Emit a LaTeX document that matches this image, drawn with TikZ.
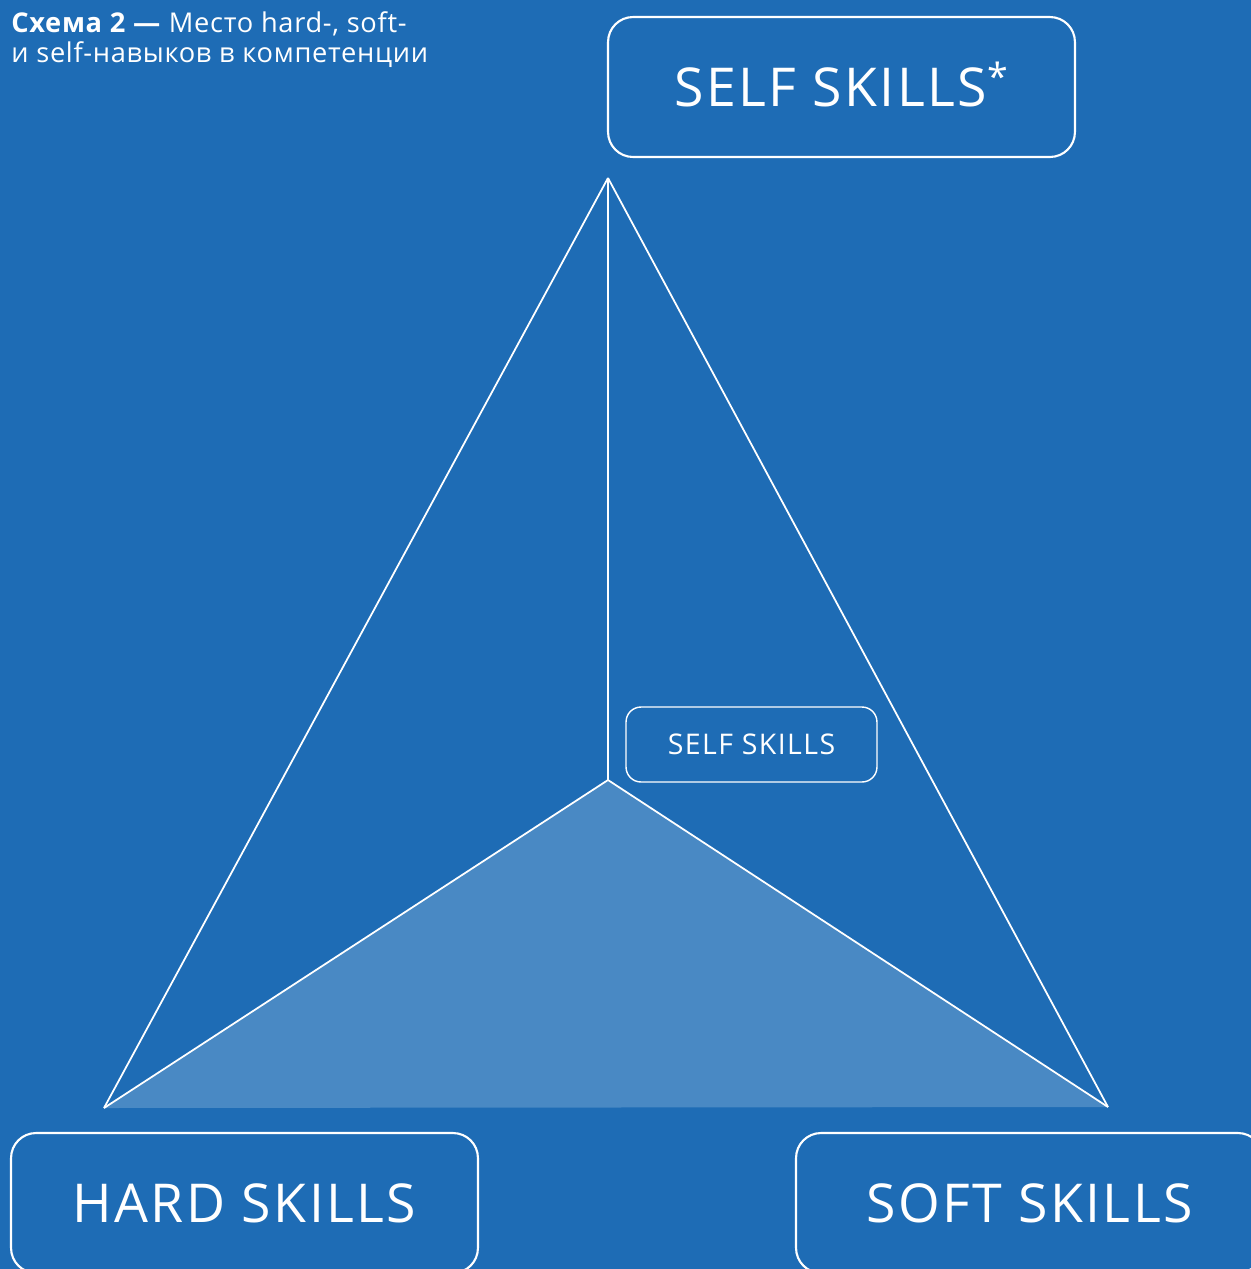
\documentclass[tikz,border=0pt]{standalone}
\usepackage{fontspec}
\setmainfont{Open Sans}
\definecolor{bgblue}{RGB}{30,108,181}
\definecolor{lightblue}{RGB}{73,137,196}

\begin{document}
\begin{tikzpicture}[x=0.02cm, y=-0.02cm,
    skillbox/.style={draw=white, line width=1.2pt, rounded corners=0.5cm,
        minimum width=9.34cm, minimum height=2.8cm, text=white,
        text height=21.8pt, text depth=0pt,
        font=\fontsize{30.5}{34}\selectfont\addfontfeature{LetterSpace=4.5}},
    smallbox/.style={draw=white, line width=0.8pt, rounded corners=0.3cm,
        minimum width=5.02cm, minimum height=1.5cm, text=white,
        text height=11.6pt, text depth=0pt,
        font=\fontsize{16.2}{18}\selectfont\addfontfeature{LetterSpace=5}},
    edge/.style={draw=white, line width=1pt}]

    % Background
    \fill[bgblue] (0,0) rectangle (1251,1269);
    \useasboundingbox (0,0) rectangle (1251,1269);

    % Title
    \node[anchor=north west, align=left, text=white, inner sep=0pt,
        font=\fontsize{15.5}{17}\selectfont\addfontfeature{LetterSpace=2.5}]
        (title) at (11,11)
        {\textbf{Схема 2 —} Место hard-, soft-\\и self-навыков в компетенции};

    % Corners of the pyramid
    \coordinate (apex) at (608,178);
    \coordinate (mid) at (608,780);
    \coordinate (left) at (104,1108);
    \coordinate (right) at (1108,1107);

    % Shaded base
    \fill[lightblue] (mid) -- (left) -- (right) -- cycle;

    % Edges
    \draw[edge] (apex) -- (left);
    \draw[edge] (apex) -- (right);
    \draw[edge] (apex) -- (mid);
    \draw[edge] (mid) -- (left);
    \draw[edge] (mid) -- (right);

    % Labels
    \node[skillbox] (self) at (841.5,87) {SELF SKILLS\textsuperscript{*}};
    \node[skillbox] (hard) at (244.5,1203) {HARD SKILLS};
    \node[skillbox] (soft) at (1029.5,1203) {SOFT SKILLS};
    \node[smallbox] (selfin) at (751.5,744.5) {SELF SKILLS};
\end{tikzpicture}
\end{document}
